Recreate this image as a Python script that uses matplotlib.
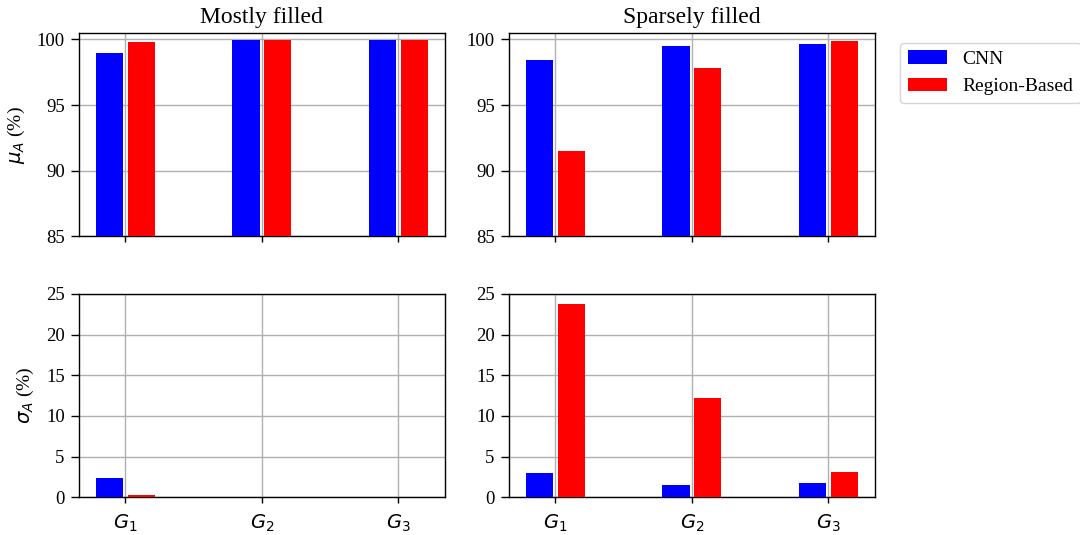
import matplotlib
matplotlib.use("Agg")
import matplotlib.pyplot as plt
import numpy as np

plt.rcParams['font.family'] = ['Liberation Serif', 'DejaVu Serif']
plt.rcParams['mathtext.fontset'] = 'dejavusans'

groups = ["$G_1$", "$G_2$", "$G_3$"]
series = ["CNN", "Region-Based"]
colors = ["blue", "red"]
titles = ["Mostly filled", "Sparsely filled"]

mu_mostly_cnn = [98.95, 99.95, 99.95]
mu_mostly_region = [99.8, 99.95, 99.95]
mu_sparse_cnn = [98.43, 99.49, 99.64]
mu_sparse_region = [91.51, 97.82, 99.87]

sigma_mostly_cnn = [2.38, 0.0, 0.0]
sigma_mostly_region = [0.28, 0.0, 0.0]
sigma_sparse_cnn = [2.99, 1.51, 1.80]
sigma_sparse_region = [23.78, 12.21, 3.11]

data = [
    [(mu_mostly_cnn, mu_mostly_region), (mu_sparse_cnn, mu_sparse_region)],
    [(sigma_mostly_cnn, sigma_mostly_region), (sigma_sparse_cnn, sigma_sparse_region)],
]

fig = plt.figure(figsize=(10.8, 5.35), dpi=100)
lefts = [79.3 / 1080, 509.3 / 1080]
width = 365.2 / 1080
bottoms = [1 - 236.3 / 535, 1 - 497.3 / 535]
height = 203.5 / 535

x = np.arange(len(groups))
bw = 0.2
off = 0.117
axes = [[None, None], [None, None]]
for r in range(2):
    for c in range(2):
        ax = fig.add_axes([lefts[c], bottoms[r], width, height])
        axes[r][c] = ax
        cnn, reg = data[r][c]
        ax.bar(x - off, cnn, bw, color=colors[0], label=series[0], zorder=3)
        ax.bar(x + off, reg, bw, color=colors[1], label=series[1], zorder=3)
        ax.grid(True, color='#b0b0b0', linewidth=1.0, zorder=0)
        ax.set_axisbelow(True)
        ax.set_xticks(x)
        if r == 0:
            ax.set_ylim(85, 100.5)
            ax.set_yticks([85, 90, 95, 100])
            ax.set_xticklabels([])
            ax.set_title(titles[c], fontsize=17, pad=7)
        else:
            ax.set_ylim(0, 25)
            ax.set_yticks([0, 5, 10, 15, 20, 25])
            ax.set_xticklabels(groups, fontsize=14)
        ax.tick_params(axis='y', labelsize=13.5, length=6, pad=4.5, width=1.0)
        ax.tick_params(axis='x', length=4.3, pad=7, width=1.0)
        for s in ax.spines.values():
            s.set_linewidth(1.0)

axes[0][0].set_ylabel(r"$\mu_A$ (%)", fontsize=14, labelpad=7)
axes[1][0].set_ylabel(r"$\sigma_A$ (%)", fontsize=14, labelpad=7)

handles, labels = axes[0][1].get_legend_handles_labels()
fig.legend(handles, labels, loc='upper left',
           bbox_to_anchor=(900 / 1080, 1 - 42.7 / 535),
           borderaxespad=0, fontsize=14)

fig.savefig("out.png", dpi=100)
